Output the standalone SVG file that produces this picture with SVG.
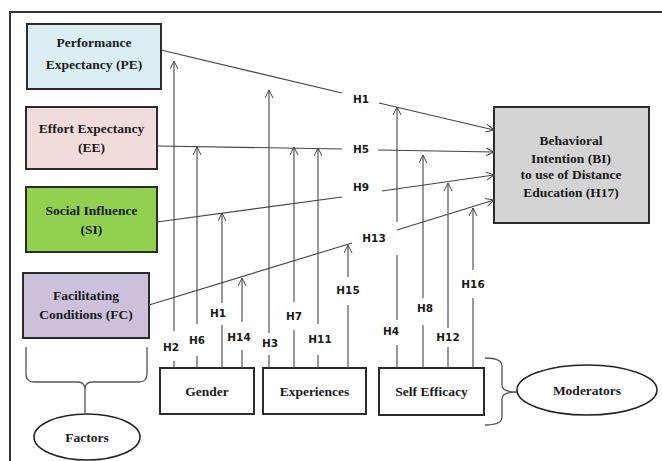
<svg xmlns="http://www.w3.org/2000/svg" width="662" height="461" viewBox="0 0 662 461">
<defs>
<marker id="arr" markerUnits="userSpaceOnUse" markerWidth="10" markerHeight="10" refX="8" refY="4" orient="auto">
<path d="M0,0 L8,4 L0,8" fill="none" stroke="#444" stroke-width="1"/>
</marker>
<style>
.box{stroke:#2b2b2b;stroke-width:2}
.t{font-family:"Liberation Serif","Times New Roman",serif;font-weight:bold;font-size:13.5px;fill:#1a1a1a;text-anchor:middle}
.h{font-family:"DejaVu Sans",Verdana,sans-serif;font-weight:bold;font-size:10.5px;fill:#1a1a1a;text-anchor:middle}
.ln{fill:none;stroke:#444;stroke-width:1.1}
.brace{fill:none;stroke:#555;stroke-width:1.3}
</style>
</defs>
<rect width="662" height="461" fill="#fff"/>
<path d="M10,461 L10,12 L662,12" fill="none" stroke="#333" stroke-width="2"/>

<g id="PE"><rect class="box" x="27" y="24" width="134" height="65" fill="#dbeef4"/><text class="t" x="94" y="47">Performance</text><text class="t" x="94" y="69">Expectancy (PE)</text></g>
<g id="EE"><rect class="box" x="26" y="107" width="131" height="62" fill="#f2dcdb"/><text class="t" x="91.5" y="133">Effort Expectancy</text><text class="t" x="91.5" y="152">(EE)</text></g>
<g id="SI"><rect class="box" x="26" y="187" width="131" height="65" fill="#92d050"/><text class="t" x="91.5" y="215">Social Influence</text><text class="t" x="91.5" y="234">(SI)</text></g>
<g id="FC"><rect class="box" x="23" y="273" width="126" height="65" fill="#ccc0da"/><text class="t" x="86" y="300">Facilitating</text><text class="t" x="86" y="319">Conditions (FC)</text></g>
<g id="BI"><rect class="box" x="494" y="107" width="155" height="116" fill="#d4d4d4"/><text class="t" x="571" y="145">Behavioral</text><text class="t" x="571" y="163">Intention (BI)</text><text class="t" x="571" y="179">to use of Distance</text><text class="t" x="571" y="197">Education (H17)</text></g>
<g id="Gender"><rect class="box" x="160" y="368" width="94" height="46" fill="#fff"/><text class="t" x="207" y="396">Gender</text></g>
<g id="Experiences"><rect class="box" x="263" y="368" width="103" height="46" fill="#fff"/><text class="t" x="314.5" y="396">Experiences</text></g>
<g id="SelfEfficacy"><rect class="box" x="379" y="368" width="105" height="47" fill="#fff"/><text class="t" x="431.5" y="396">Self Efficacy</text></g>
<g id="Factors"><path class="brace" d="M26,347 L26,374 Q26,382 34,382 L78,382 Q85,382 85,390 L85,413 M147,347 L147,374 Q147,382 139,382 L92,382 Q85,382 85,390"/><ellipse cx="87" cy="437" rx="53" ry="23" fill="#fff" stroke="#222" stroke-width="1.6"/><text class="t" x="87" y="442">Factors</text></g>
<g id="Moderators"><path class="brace" d="M485,358 Q502,358 502,366 L502,385 Q502,392 517,392 Q502,392 502,399 L502,417 Q502,425 485,425"/><ellipse cx="587" cy="390" rx="70" ry="25" fill="#fff" stroke="#222" stroke-width="1.6"/><text class="t" x="587" y="395">Moderators</text></g>

<g id="connectors">
<path class="ln" d="M161,50 L342,93"/><path class="ln" d="M379,103 L494,130" marker-end="url(#arr)"/>
<path class="ln" d="M157,146 L342,149"/><path class="ln" d="M378,150 L494,152" marker-end="url(#arr)"/>
<path class="ln" d="M157,222 L342,197"/><path class="ln" d="M382,191 L494,175" marker-end="url(#arr)"/>
<path class="ln" d="M149,305 L352,243"/><path class="ln" d="M397,230 L494,200" marker-end="url(#arr)"/>

<path class="ln" d="M174,368 V361"/><path class="ln" d="M174,331 V61" marker-end="url(#arr)"/>
<path class="ln" d="M197,368 V356"/><path class="ln" d="M197,324 V147" marker-end="url(#arr)"/>
<path class="ln" d="M222,368 V325"/><path class="ln" d="M222,303 V213" marker-end="url(#arr)"/>
<path class="ln" d="M242,368 V350"/><path class="ln" d="M242,322 V278" marker-end="url(#arr)"/>
<path class="ln" d="M269,368 V355"/><path class="ln" d="M269,333 V90" marker-end="url(#arr)"/>
<path class="ln" d="M294,368 V330"/><path class="ln" d="M294,302 V147" marker-end="url(#arr)"/>
<path class="ln" d="M318,368 V355"/><path class="ln" d="M318,324 V148" marker-end="url(#arr)"/>
<path class="ln" d="M348,368 V305"/><path class="ln" d="M348,277 V245" marker-end="url(#arr)"/>
<path class="ln" d="M397,368 V345"/><path class="ln" d="M397,320 V255"/><path class="ln" d="M397,222 V107" marker-end="url(#arr)"/>
<path class="ln" d="M423,368 V325"/><path class="ln" d="M423,298 V155" marker-end="url(#arr)"/>
<path class="ln" d="M448,368 V347"/><path class="ln" d="M448,328 V183" marker-end="url(#arr)"/>
<path class="ln" d="M473,368 V298"/><path class="ln" d="M473,270 V208" marker-end="url(#arr)"/>
</g>

<g id="labels">
<text class="h" x="361" y="103">H1</text>
<text class="h" x="361" y="153">H5</text>
<text class="h" x="361" y="191">H9</text>
<text class="h" x="374" y="242">H13</text>
<text class="h" x="171" y="351">H2</text>
<text class="h" x="197" y="344">H6</text>
<text class="h" x="218" y="317">H1</text>
<text class="h" x="239" y="341">H14</text>
<text class="h" x="270" y="347">H3</text>
<text class="h" x="294" y="320">H7</text>
<text class="h" x="320" y="343">H11</text>
<text class="h" x="348" y="294">H15</text>
<text class="h" x="391" y="335">H4</text>
<text class="h" x="425" y="312">H8</text>
<text class="h" x="448" y="341">H12</text>
<text class="h" x="473" y="288">H16</text>
</g>
</svg>
